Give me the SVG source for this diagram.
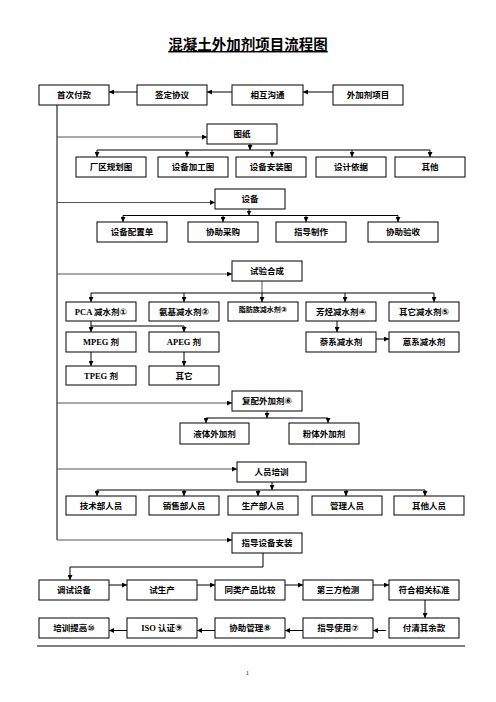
<svg xmlns="http://www.w3.org/2000/svg" width="496" height="702" viewBox="0 0 496 702">
<defs>
<style>
.b{fill:#fff;stroke:#000;stroke-width:1}
.t{font-family:"Noto Sans CJK SC","Noto Sans CJK JP",sans-serif;font-weight:bold;font-size:8.5px;text-anchor:middle;fill:#000}
.l{font-family:"Liberation Serif",serif;font-weight:bold}
.n{font-family:"DejaVu Sans",sans-serif;font-weight:bold;font-size:9px}
.c{fill:none;stroke:#000;stroke-width:1}
.g{fill:none;stroke:#555;stroke-width:1}
.a{marker-end:url(#ah)}
</style>
<marker id="ah" markerWidth="5" markerHeight="5" refX="5" refY="2.5" orient="auto" markerUnits="userSpaceOnUse">
<path d="M0,0 L5,2.5 L0,5 z" fill="#000"/>
</marker>
</defs>
<rect width="496" height="702" fill="#fff"/>
<text x="248" y="50" font-family="Noto Sans CJK SC,sans-serif" font-weight="bold" font-size="14.5" text-anchor="middle" text-decoration="underline">混凝土外加剂项目流程图</text>

<g id="connectors">
<path class="c a" d="M333,92 H303"/>
<path class="c a" d="M232,92 H207"/>
<path class="c a" d="M137,92 H109"/>
<path class="c" d="M57,105 V540"/>
<path class="g a" d="M57,137 H207"/>
<path class="g a" d="M57,202.5 H215"/>
<path class="g a" d="M57,274 H232"/>
<path class="g a" d="M57,403 H232"/>
<path class="g a" d="M57,469 H237"/>
<path class="g a" d="M57,540 H232"/>
<path class="c a" d="M250,144 V150"/>
<path class="c" d="M97,150 H430"/>
<path class="c a" d="M97,150 V157"/>
<path class="c a" d="M187,150 V157"/>
<path class="c a" d="M272,150 V157"/>
<path class="c a" d="M352,150 V157"/>
<path class="c a" d="M430,150 V157"/>
<path class="c a" d="M249,209 V215.5"/>
<path class="c" d="M123,215.5 H398"/>
<path class="c a" d="M123,215.5 V222"/>
<path class="c a" d="M223,215.5 V222"/>
<path class="c a" d="M306,215.5 V222"/>
<path class="c a" d="M398,215.5 V222"/>
<path class="g" d="M262,281 V293"/>
<path class="c" d="M91,293 H434"/>
<path class="c a" d="M91,293 V302"/>
<path class="c a" d="M184,293 V302"/>
<path class="c a" d="M262,293 V302"/>
<path class="c a" d="M345,293 V302"/>
<path class="c a" d="M434,293 V302"/>
<path class="c" d="M91,321 V326 H184"/>
<path class="c a" d="M91,326 V332"/>
<path class="c a" d="M184,326 V332"/>
<path class="c a" d="M91,352 V366"/>
<path class="c a" d="M184,352 V366"/>
<path class="c a" d="M337,321 V332"/>
<path class="c a" d="M376,339 H389"/>
<path class="c a" d="M267,411 V418"/>
<path class="c" d="M206,418 H328"/>
<path class="c a" d="M206,418 V423"/>
<path class="c a" d="M328,418 V423"/>
<path class="c a" d="M272,482 V490"/>
<path class="c" d="M97,490 H425"/>
<path class="c a" d="M97,490 V496"/>
<path class="c a" d="M184,490 V496"/>
<path class="c a" d="M258,490 V496"/>
<path class="c a" d="M346,490 V496"/>
<path class="c a" d="M425,490 V496"/>
<path class="c a" d="M263,553 V567 H70 V580"/>
<path class="c a" d="M109,585 H127"/>
<path class="c a" d="M197,585 H215"/>
<path class="c a" d="M285,585 H303"/>
<path class="c a" d="M373,585 H389"/>
<path class="c a" d="M425,600 V618"/>
<path class="c a" d="M386,630.5 H373"/>
<path class="c a" d="M303,630.5 H285"/>
<path class="c a" d="M215,630.5 H197"/>
<path class="c a" d="M127,630.5 H109"/>
</g>

<g id="n-shouci"><rect class="b" x="39" y="85" width="70" height="20"/><text class="t" x="74" y="98">首次付款</text></g>
<g id="n-qianding"><rect class="b" x="137" y="85" width="70" height="20"/><text class="t" x="172" y="98">签定协议</text></g>
<g id="n-xianghu"><rect class="b" x="232" y="85" width="71" height="20"/><text class="t" x="267.5" y="98">相互沟通</text></g>
<g id="n-waijiaji"><rect class="b" x="333" y="85" width="70" height="20"/><text class="t" x="368" y="98">外加剂项目</text></g>

<g id="n-tuzhi"><rect class="b" x="207" y="124" width="70" height="20"/><text class="t" x="242" y="137">图纸</text></g>
<g id="n-changqu"><rect class="b" x="76" y="157" width="70" height="20"/><text class="t" x="111" y="170">厂区规划图</text></g>
<g id="n-jiagong"><rect class="b" x="158" y="157" width="70" height="20"/><text class="t" x="193" y="170">设备加工图</text></g>
<g id="n-anzhuang"><rect class="b" x="236" y="157" width="70" height="20"/><text class="t" x="271" y="170">设备安装图</text></g>
<g id="n-yiju"><rect class="b" x="316" y="157" width="70" height="20"/><text class="t" x="351" y="170">设计依据</text></g>
<g id="n-qita1"><rect class="b" x="395" y="157" width="70" height="20"/><text class="t" x="430" y="170">其他</text></g>

<g id="n-shebei"><rect class="b" x="215" y="189" width="70" height="20"/><text class="t" x="250" y="202">设备</text></g>
<g id="n-peizhi"><rect class="b" x="97" y="222" width="70" height="20"/><text class="t" x="132" y="235">设备配置单</text></g>
<g id="n-caigou"><rect class="b" x="188" y="222" width="70" height="20"/><text class="t" x="223" y="235">协助采购</text></g>
<g id="n-zhizuo"><rect class="b" x="276" y="222" width="70" height="20"/><text class="t" x="311" y="235">指导制作</text></g>
<g id="n-yanshou"><rect class="b" x="368" y="222" width="70" height="20"/><text class="t" x="403" y="235">协助验收</text></g>

<g id="n-shiyan"><rect class="b" x="232" y="261" width="70" height="20"/><text class="t" x="267" y="274">试验合成</text></g>
<g id="n-pca"><rect class="b" x="66" y="302" width="70" height="19"/><text class="t" x="101" y="314.5"><tspan class="l">PCA </tspan>减水剂<tspan class="n">①</tspan></text></g>
<g id="n-anji"><rect class="b" x="149" y="302" width="70" height="19"/><text class="t" x="184" y="314.5">氨基减水剂<tspan class="n">②</tspan></text></g>
<g id="n-zhifang"><rect class="b" x="228" y="302" width="70" height="19"/><text class="t" x="263" y="312" style="font-size:7px">脂肪族减水剂<tspan class="n" style="font-size:7.5px">③</tspan></text></g>
<g id="n-fangting"><rect class="b" x="306" y="302" width="70" height="19"/><text class="t" x="341" y="314.5">芳烃减水剂<tspan class="n">④</tspan></text></g>
<g id="n-qita2"><rect class="b" x="389" y="302" width="70" height="19"/><text class="t" x="424" y="314.5">其它减水剂<tspan class="n">⑤</tspan></text></g>
<g id="n-mpeg"><rect class="b" x="66" y="332" width="70" height="20"/><text class="t" x="101" y="345"><tspan class="l">MPEG </tspan>剂</text></g>
<g id="n-apeg"><rect class="b" x="149" y="332" width="70" height="20"/><text class="t" x="184" y="345"><tspan class="l">APEG </tspan>剂</text></g>
<g id="n-tpeg"><rect class="b" x="66" y="366" width="70" height="19"/><text class="t" x="101" y="378.5"><tspan class="l">TPEG </tspan>剂</text></g>
<g id="n-qita3"><rect class="b" x="149" y="366" width="70" height="19"/><text class="t" x="184" y="378.5">其它</text></g>
<g id="n-naixi"><rect class="b" x="306" y="332" width="70" height="20"/><text class="t" x="341" y="345">萘系减水剂</text></g>
<g id="n-enxi"><rect class="b" x="389" y="332" width="70" height="20"/><text class="t" x="424" y="345">蒽系减水剂</text></g>

<g id="n-fupei"><rect class="b" x="232" y="391" width="70" height="20"/><text class="t" x="267" y="404">复配外加剂<tspan class="n">⑥</tspan></text></g>
<g id="n-yeti"><rect class="b" x="180" y="423" width="69" height="21"/><text class="t" x="214.5" y="436.5">液体外加剂</text></g>
<g id="n-fenti"><rect class="b" x="289" y="423" width="70" height="21"/><text class="t" x="324" y="436.5">粉体外加剂</text></g>

<g id="n-peixun"><rect class="b" x="237" y="462" width="69" height="20"/><text class="t" x="271.5" y="475">人员培训</text></g>
<g id="n-jishu"><rect class="b" x="66" y="496" width="70" height="19"/><text class="t" x="101" y="508.5">技术部人员</text></g>
<g id="n-xiaoshou"><rect class="b" x="149" y="496" width="70" height="19"/><text class="t" x="184" y="508.5">销售部人员</text></g>
<g id="n-shengchan"><rect class="b" x="228" y="496" width="70" height="19"/><text class="t" x="263" y="508.5">生产部人员</text></g>
<g id="n-guanli"><rect class="b" x="312" y="496" width="70" height="19"/><text class="t" x="347" y="508.5">管理人员</text></g>
<g id="n-qita4"><rect class="b" x="394" y="496" width="70" height="19"/><text class="t" x="429" y="508.5">其他人员</text></g>

<g id="n-zhidao"><rect class="b" x="232" y="533" width="70" height="20"/><text class="t" x="267" y="546">指导设备安装</text></g>

<g id="n-tiaoshi"><rect class="b" x="39" y="580" width="70" height="20"/><text class="t" x="74" y="593">调试设备</text></g>
<g id="n-shisheng"><rect class="b" x="127" y="580" width="70" height="20"/><text class="t" x="162" y="593">试生产</text></g>
<g id="n-tonglei"><rect class="b" x="215" y="580" width="70" height="20"/><text class="t" x="250" y="593">同类产品比较</text></g>
<g id="n-disanfang"><rect class="b" x="303" y="580" width="70" height="20"/><text class="t" x="338" y="593">第三方检测</text></g>
<g id="n-fuhe"><rect class="b" x="389" y="580" width="70" height="20"/><text class="t" x="424" y="593">符合相关标准</text></g>

<g id="n-peixuntigao"><rect class="b" x="39" y="618" width="70" height="20"/><text class="t" x="74" y="631">培训提高<tspan class="n">⑩</tspan></text></g>
<g id="n-iso"><rect class="b" x="127" y="618" width="70" height="20"/><text class="t" x="162" y="631"><tspan class="l">ISO </tspan>认证<tspan class="n">⑨</tspan></text></g>
<g id="n-xiezhu"><rect class="b" x="215" y="618" width="70" height="20"/><text class="t" x="250" y="631">协助管理<tspan class="n">⑧</tspan></text></g>
<g id="n-shiyong"><rect class="b" x="303" y="618" width="70" height="20"/><text class="t" x="338" y="631">指导使用<tspan class="n">⑦</tspan></text></g>
<g id="n-fuqing"><rect class="b" x="389" y="618" width="70" height="20"/><text class="t" x="424" y="631">付清其余款</text></g>

<line x1="37" y1="646" x2="465" y2="646" stroke="#000" stroke-width="1"/>
<text x="247.5" y="675" font-family="Liberation Serif,serif" font-size="6" text-anchor="middle">1</text>
</svg>
